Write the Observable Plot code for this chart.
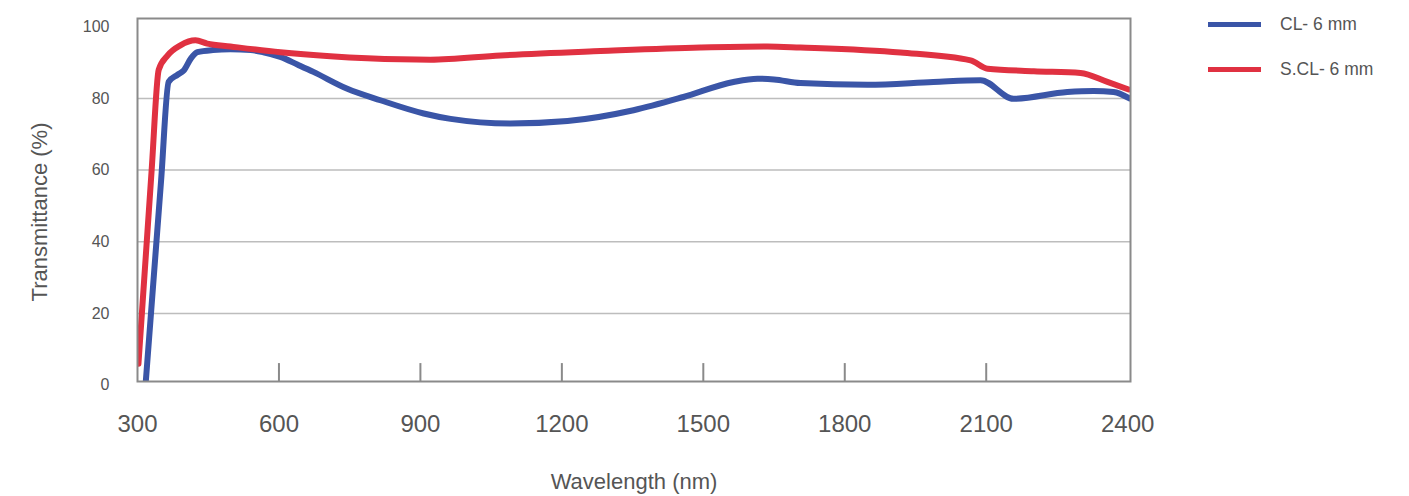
<!DOCTYPE html>
<html>
<head>
<meta charset="utf-8">
<script src="https://cdn.jsdelivr.net/npm/d3@7"></script>
<script src="https://cdn.jsdelivr.net/npm/@observablehq/plot@0.6"></script>
<style>
  body { margin: 0; background: #fff; font-family: "Liberation Sans", Arial, sans-serif; }
  #wrap { position: relative; width: 1409px; height: 496px; }
  #legend { position: absolute; left: 1208px; top: 2px; font-size: 17.5px; color: #555; }
  .item { display: flex; align-items: center; height: 45px; }
  .swatch { width: 53px; height: 5px; margin-right: 19px; }
</style>
</head>
<body>
<div id="wrap"></div>
<script>
// Series names and colours
const seriesNames = ["CL- 6 mm", "S.CL- 6 mm"];
const seriesColors = ["#3a55a7", "#e03141"];

// CL- 6 mm (blue)
const clWavelength = [317, 350, 366, 385, 398, 413, 427, 460, 497, 540, 567, 603, 640, 673, 745, 815, 907, 964, 1091, 1212, 1352, 1458, 1564, 1615, 1650, 1706, 1848, 1988, 2088, 2158, 2272, 2328, 2370, 2404];
const clTransmittance = [0, 57, 84.6, 86.6, 87.8, 91.1, 92.9, 93.5, 93.7, 93.5, 92.9, 91.6, 89.4, 87.4, 82.7, 79.5, 75.8, 74.3, 73.0, 73.7, 76.7, 80.4, 84.6, 85.5, 85.3, 84.3, 83.8, 84.6, 85.1, 79.9, 81.8, 82.1, 81.8, 80.0];

// S.CL- 6 mm (red)
const sclWavelength = [302, 330, 345, 364, 391, 423, 448, 497, 603, 709, 858, 921, 1070, 1282, 1494, 1636, 1706, 1918, 2067, 2103, 2201, 2300, 2357, 2402];
const sclTransmittance = [6, 60, 88, 92, 94.8, 96.2, 95.3, 94.5, 92.9, 91.8, 90.9, 90.8, 92.0, 93.2, 94.2, 94.5, 94.2, 92.8, 90.6, 88.3, 87.6, 87.1, 84.6, 82.5];

// Axis ticks
const xTicks = [300, 600, 900, 1200, 1500, 1800, 2100, 2400];
const xInnerTicks = [600, 900, 1200, 1500, 1800, 2100];
const yTicks = [0, 20, 40, 60, 80, 100];
const yGrid = [20, 40, 60, 80];

const yMin = 1.03, yMax = 102.3;

const rows = [
  ...clWavelength.map((w, i) => ({ series: seriesNames[0], w, t: clTransmittance[i] })),
  ...sclWavelength.map((w, i) => ({ series: seriesNames[1], w, t: sclTransmittance[i] }))
];

const chart = Plot.plot({
  width: 1409,
  height: 496,
  marginLeft: 137,
  marginRight: 279,
  marginTop: 18,
  marginBottom: 115,
  style: { fontFamily: "Liberation Sans, Arial, sans-serif", color: "#555", background: "#fff" },
  x: { domain: [300, 2406] },
  y: { domain: [yMin, yMax] },
  color: { domain: seriesNames, range: seriesColors },
  marks: [
    Plot.ruleY(yGrid, { stroke: "#bdbdbd", strokeWidth: 1.5 }),
    Plot.ruleX(xInnerTicks, { y1: yMin, y2: yMin + 5, stroke: "#8a8a8a", strokeWidth: 2 }),
    Plot.line(rows, { x: "w", y: "t", z: "series", stroke: "series", strokeWidth: 6, curve: "monotone-x", clip: true }),
    Plot.frame({ stroke: "#8a8a8a", strokeWidth: 2 }),
    Plot.axisX(xTicks, { tickSize: 0, tickPadding: 33, fontSize: 24, tickFormat: d => String(d), label: "Wavelength (nm)", labelAnchor: "center", labelOffset: 107, labelArrow: "none" }),
    Plot.axisY(yTicks, { tickSize: 0, tickPadding: 28, fontSize: 16, tickFormat: d => String(d), label: "Transmittance (%)", labelAnchor: "center", labelOffset: 106, labelArrow: "none" })
  ]
});

// enlarge axis labels, nudge the y label down along the axis
chart.querySelectorAll("g[aria-label='x-axis label'] text").forEach(t => t.setAttribute("font-size", "22"));
chart.querySelectorAll("g[aria-label='y-axis label'] text").forEach(t => { t.setAttribute("font-size", "22"); t.setAttribute("dx", "-12"); });

const wrap = document.getElementById("wrap");
wrap.appendChild(chart);

const legend = document.createElement("div");
legend.id = "legend";
seriesNames.forEach((name, i) => {
  const item = document.createElement("div");
  item.className = "item";
  const sw = document.createElement("span");
  sw.className = "swatch";
  sw.style.background = seriesColors[i];
  const lab = document.createElement("span");
  lab.textContent = name;
  item.appendChild(sw);
  item.appendChild(lab);
  legend.appendChild(item);
});
wrap.appendChild(legend);
</script>
</body>
</html>
